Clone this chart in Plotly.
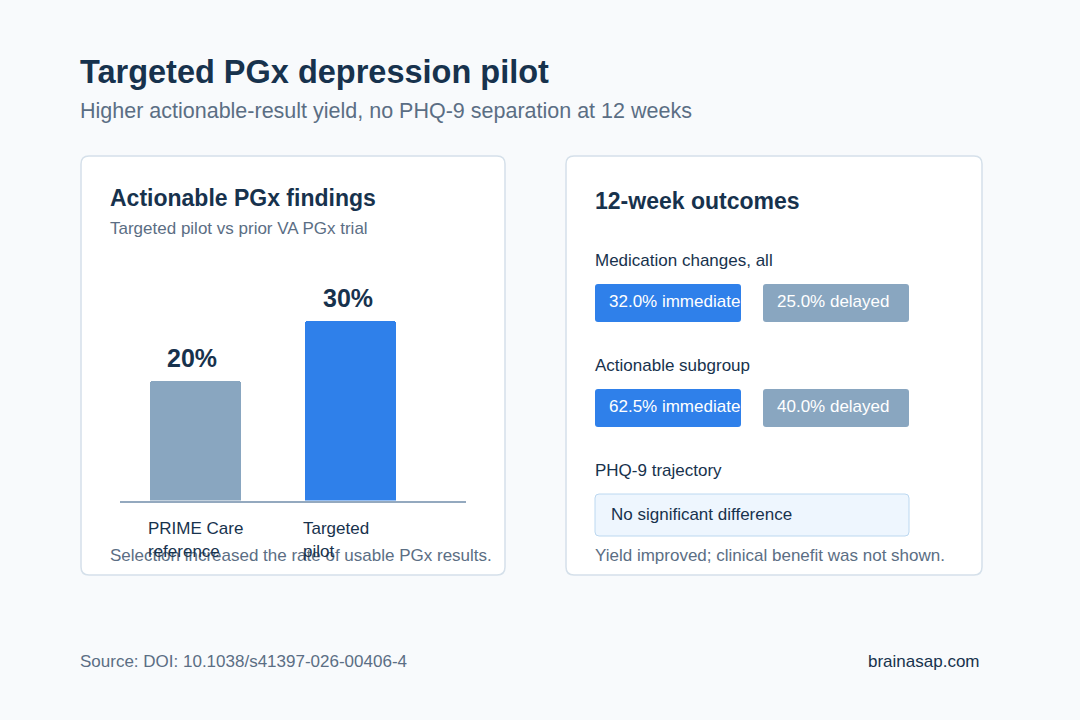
import plotly.graph_objects as go

W, H = 1080, 720
FONT = "Liberation Sans, Arial, sans-serif"
DARK = "#17324d"
GREY = "#5b6e84"
BLUE = "#2f80ea"
SLATE = "#89a6c0"

# ---- data ----
title = "Targeted PGx depression pilot"
subtitle = "Higher actionable-result yield, no PHQ-9 separation at 12 weeks"
bar_categories = ["PRIME Care reference", "Targeted pilot"]
bar_label_lines = [["PRIME Care", "reference"], ["Targeted", "pilot"]]
bar_values = [20, 30]
bar_colors = [SLATE, BLUE]

outcome_groups = ["Medication changes, all", "Actionable subgroup"]
immediate_pct = [32.0, 62.5]
delayed_pct = [25.0, 40.0]
phq_label = "PHQ-9 trajectory"
phq_result = "No significant difference"

left_title = "Actionable PGx findings"
left_sub = "Targeted pilot vs prior VA PGx trial"
left_note = "Selection increased the rate of usable PGx results."
right_title = "12-week outcomes"
right_note = "Yield improved; clinical benefit was not shown."
source = "Source: DOI: 10.1038/s41397-026-00406-4"
brand = "brainasap.com"

SMALL = 17


def px(x):
    return x / W


def py(y):
    return 1 - y / H


def rrect(x0, y0, x1, y1, r, fill, line=None, lw=0):
    X0, X1 = px(x0), px(x1)
    Y0, Y1 = py(y0), py(y1)
    rx, ry = r / W, r / H
    path = (f"M{X0+rx},{Y0} L{X1-rx},{Y0} Q{X1},{Y0} {X1},{Y0-ry} "
            f"L{X1},{Y1+ry} Q{X1},{Y1} {X1-rx},{Y1} L{X0+rx},{Y1} "
            f"Q{X0},{Y1} {X0},{Y1+ry} L{X0},{Y0-ry} Q{X0},{Y0} {X0+rx},{Y0} Z")
    return dict(type="path", path=path, xref="paper", yref="paper",
                fillcolor=fill, line=dict(color=line or fill, width=lw),
                layer="below")


shapes = [
    rrect(81, 156, 505, 575, 8, "#ffffff", "#d5e0ea", 1.5),
    rrect(566, 156, 982, 575, 8, "#ffffff", "#d5e0ea", 1.5),
]

annotations = []


def text(x, y, s, size, color, bold=False, anchor="left"):
    annotations.append(dict(
        x=px(x), y=py(y), xref="paper", yref="paper", text=f"<b>{s}</b>" if bold else s,
        showarrow=False, xanchor=anchor, yanchor="middle",
        font=dict(family=FONT, size=size, color=color)))


text(78, 72, title, 32.5, DARK, bold=True)
text(78, 111, subtitle, 21.5, GREY)
text(108, 198, left_title, 23, DARK, bold=True)
text(108, 228, left_sub, SMALL, GREY)
text(108, 555, left_note, SMALL, GREY)
text(593, 201, right_title, 23, DARK, bold=True)
text(593, 555, right_note, SMALL, GREY)
text(78, 661, source, SMALL, GREY)
text(982, 661, brand, SMALL, DARK, anchor="right")

# right card outcomes
row_label_y = [260, 365]
pill_top = [284, 389]
for i, grp in enumerate(outcome_groups):
    text(593, row_label_y[i], grp, SMALL, DARK)
    t = pill_top[i]
    shapes.append(rrect(595, t, 741, t + 38, 3, BLUE))
    shapes.append(rrect(763, t, 909, t + 38, 3, SLATE))
    text(607, t + 17, f"{immediate_pct[i]:.1f}% immediate", SMALL, "#ffffff")
    text(775, t + 17, f"{delayed_pct[i]:.1f}% delayed", SMALL, "#ffffff")

text(593, 470, phq_label, SMALL, DARK)
shapes.append(rrect(595, 494, 909, 536, 4, "#eef6fe", "#bcd8f0", 1))
text(609, 514, phq_result, SMALL, DARK)

# bar chart
fig = go.Figure()
fig.add_trace(go.Bar(
    x=bar_categories, y=bar_values, marker=dict(color=bar_colors, cornerradius=4, line=dict(width=0)),
    width=0.587, hoverinfo="skip", showlegend=False))

for cat, v in zip(bar_categories, bar_values):
    annotations.append(dict(
        x=cat, y=v, xref="x", yref="y", text=f"<b>{v}%</b>", showarrow=False,
        xanchor="center", yanchor="middle", yshift=22, xshift=-3,
        font=dict(family=FONT, size=25, color=DARK)))

for cat, lines in zip(bar_categories, bar_label_lines):
    for j, ln in enumerate(lines):
        annotations.append(dict(
            x=cat, y=py(528 + 23.5 * j), xref="x", yref="paper", text=ln, showarrow=False,
            xanchor="left", yanchor="middle", xshift=-49.5,
            font=dict(family=FONT, size=SMALL, color=DARK)))

fig.update_layout(
    width=W, height=H,
    margin=dict(l=0, r=0, t=0, b=0),
    paper_bgcolor="#f8fafc",
    plot_bgcolor="rgba(0,0,0,0)",
    shapes=shapes,
    annotations=annotations,
    xaxis=dict(domain=[px(120), px(466)], range=[-0.487, 1.745], showticklabels=False,
               showgrid=False, zeroline=False, showline=True, linecolor="#94a9bf",
               linewidth=2, ticks="", fixedrange=True),
    yaxis=dict(domain=[py(500.5), py(260.5)], range=[0, 40], showticklabels=False,
               showgrid=False, zeroline=False, showline=False, fixedrange=True),
    bargap=0,
)

fig.write_html("out.html", config={"displayModeBar": False})
